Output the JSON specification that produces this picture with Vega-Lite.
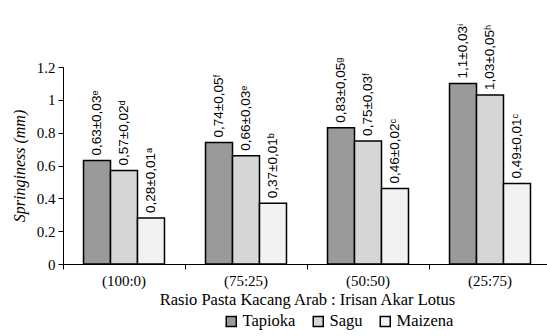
{
  "$schema": "https://vega.github.io/schema/vega-lite/v6.json",
  "autosize": {"type": "none"},
  "padding": {"left": 63, "top": 67, "right": 0, "bottom": 72},
  "width": 488,
  "height": 197,
  "background": "white",
  "config": {
    "view": {"stroke": null},
    "font": "Times New Roman",
    "axis": {"grid": false, "domainColor": "black", "tickColor": "black", "labelColor": "black", "titleColor": "black", "labelFont": "Times New Roman", "titleFont": "Times New Roman"},
    "legend": {"labelFont": "Times New Roman"}
  },
  "data": {
    "values": [
      {"rasio": "(100:0)", "jenis": "Tapioka", "nilai": 0.63, "label": "0,63±0,03ᵉ"},
      {"rasio": "(100:0)", "jenis": "Sagu", "nilai": 0.57, "label": "0,57±0,02ᵈ"},
      {"rasio": "(100:0)", "jenis": "Maizena", "nilai": 0.28, "label": "0,28±0,01ᵃ"},
      {"rasio": "(75:25)", "jenis": "Tapioka", "nilai": 0.74, "label": "0,74±0,05ᶠ"},
      {"rasio": "(75:25)", "jenis": "Sagu", "nilai": 0.66, "label": "0,66±0,03ᵉ"},
      {"rasio": "(75:25)", "jenis": "Maizena", "nilai": 0.37, "label": "0,37±0,01ᵇ"},
      {"rasio": "(50:50)", "jenis": "Tapioka", "nilai": 0.83, "label": "0,83±0,05ᵍ"},
      {"rasio": "(50:50)", "jenis": "Sagu", "nilai": 0.75, "label": "0,75±0,03ᶠ"},
      {"rasio": "(50:50)", "jenis": "Maizena", "nilai": 0.46, "label": "0,46±0,02ᶜ"},
      {"rasio": "(25:75)", "jenis": "Tapioka", "nilai": 1.1, "label": "1,1±0,03ⁱ"},
      {"rasio": "(25:75)", "jenis": "Sagu", "nilai": 1.03, "label": "1,03±0,05ʰ"},
      {"rasio": "(25:75)", "jenis": "Maizena", "nilai": 0.49, "label": "0,49±0,01ᶜ"}
    ]
  },
  "encoding": {
    "x": {
      "field": "rasio", "type": "nominal", "sort": ["(100:0)", "(75:25)", "(50:50)", "(25:75)"],
      "scale": {"paddingInner": 0, "paddingOuter": 0},
      "axis": {"title": "Rasio Pasta Kacang Arab : Irisan Akar Lotus", "labelAngle": 0, "labelFontSize": 15, "labelFontWeight": "normal", "titleFontSize": 16.5, "titleFontWeight": "normal", "bandPosition": 0, "tickSize": 5, "labelPadding": 4, "titlePadding": 3}
    },
    "xOffset": {
      "field": "jenis", "type": "nominal", "sort": ["Tapioka", "Sagu", "Maizena"],
      "scale": {"paddingInner": 0, "paddingOuter": 0.76}
    },
    "y": {
      "field": "nilai", "type": "quantitative",
      "scale": {"domain": [0, 1.2]},
      "axis": {"title": "Springiness (mm)", "titleFontStyle": "italic", "titleFontWeight": "normal", "titleFontSize": 16, "labelFontSize": 15, "format": "~g", "values": [0, 0.2, 0.4, 0.6, 0.8, 1, 1.2], "tickSize": 5, "labelPadding": 3, "titlePadding": 9}
    }
  },
  "layer": [
    {
      "mark": {"type": "bar", "stroke": "black", "strokeWidth": 1.5},
      "encoding": {
        "fill": {
          "field": "jenis", "type": "nominal", "sort": ["Tapioka", "Sagu", "Maizena"],
          "scale": {"domain": ["Tapioka", "Sagu", "Maizena"], "range": ["#9a9a9a", "#d6d6d6", "#f2f2f2"]},
          "legend": {"title": null, "orient": "none", "direction": "horizontal", "legendX": 160, "legendY": 246, "symbolType": "square", "symbolSize": 100, "symbolStrokeColor": "black", "symbolStrokeWidth": 1.5, "labelFontSize": 16.5, "labelFont": "Times New Roman", "labelColor": "black", "columnPadding": 14, "labelOffset": 3}
        }
      }
    },
    {
      "mark": {"type": "text", "angle": 270, "align": "left", "baseline": "middle", "dx": 5, "font": "Liberation Sans", "fontSize": 13.5, "color": "black"},
      "encoding": {"text": {"field": "label", "type": "nominal"}}
    }
  ]
}
